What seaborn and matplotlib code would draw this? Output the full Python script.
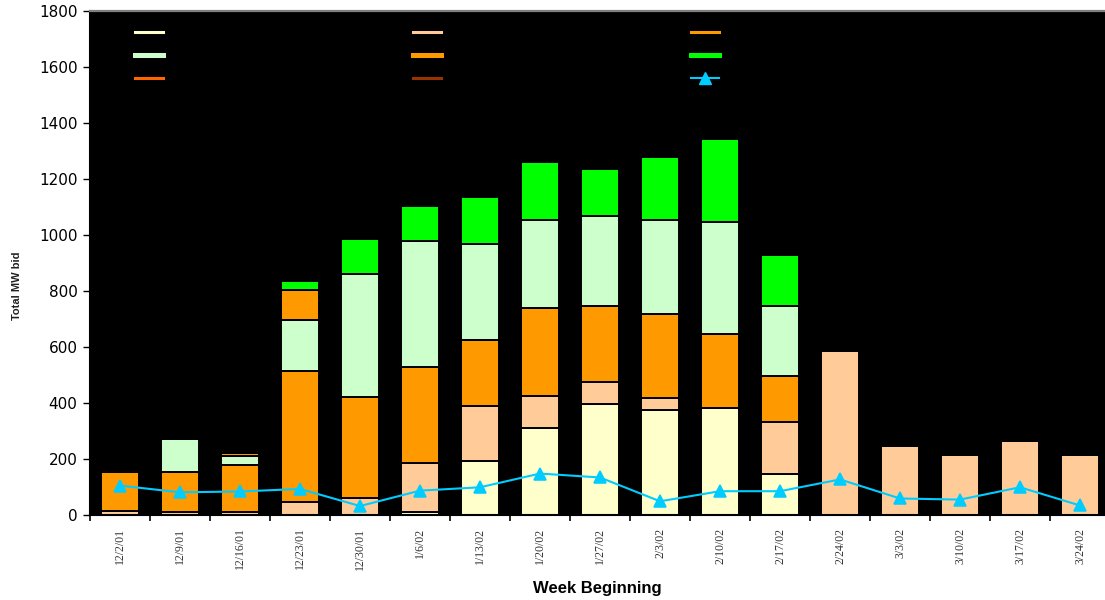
import matplotlib
matplotlib.use("Agg")
import matplotlib.pyplot as plt
from matplotlib.lines import Line2D
import numpy as np
import seaborn as sns

# Weekly MW bid, stacked by price tier (bottom to top)
weeks = ['12/2/01', '12/9/01', '12/16/01', '12/23/01', '12/30/01', '1/6/02',
         '1/13/02', '1/20/02', '1/27/02', '2/3/02', '2/10/02', '2/17/02',
         '2/24/02', '3/3/02', '3/10/02', '3/17/02', '3/24/02']
yellow_mw = [0, 0, 0, 0, 0, 9, 192, 311, 397, 376, 383, 147, 0, 0, 0, 0, 0]
peach_mw = [16, 9, 9, 45, 59, 178, 198, 115, 79, 43, 0, 186, 587, 245, 216, 266, 216]
orange_mw = [136, 143, 171, 471, 364, 340, 236, 314, 271, 299, 264, 164, 0, 0, 0, 0, 0]
ltgreen_mw = [0, 121, 29, 179, 436, 450, 342, 314, 321, 336, 400, 250, 0, 0, 0, 0, 0]
upper_orange_mw = [0, 0, 14, 107, 0, 0, 0, 0, 0, 0, 0, 0, 0, 0, 0, 0, 0]
green_mw = [0, 0, 0, 35, 128, 125, 169, 205, 169, 226, 297, 183, 0, 0, 0, 0, 0]
# Weekly line series (triangles)
line_mw = [105, 81, 84, 93, 32, 87, 99, 148, 134, 49, 85, 85, 127, 59, 55, 99, 34]

y_ticks = list(range(0, 1801, 200))

stack = [
    (yellow_mw, '#FFFFCC'),
    (peach_mw, '#FFCC99'),
    (orange_mw, '#FF9900'),
    (ltgreen_mw, '#CCFFCC'),
    (upper_orange_mw, '#FF9900'),
    (green_mw, '#00FF00'),
]

fig = plt.figure(figsize=(11.05, 6.0), dpi=100)
fig.patch.set_facecolor('white')
ax = fig.add_axes([90 / 1105, 85 / 600, 1020 / 1105, 504 / 600])
ax.set_facecolor('black')

bottom = np.zeros(len(weeks))
for vals, col in stack:
    sns.barplot(x=weeks, y=vals, order=weeks, bottom=bottom.copy(), color=col,
                saturation=1, width=0.62, edgecolor='black', linewidth=1.4,
                errorbar=None, ax=ax)
    bottom += np.asarray(vals, dtype=float)

sns.pointplot(x=weeks, y=line_mw, order=weeks, color='#00CCFF', marker='^',
              markersize=8, linewidth=1.5, errorbar=None, ax=ax)

ax.set_xlim(-0.5, len(weeks) - 0.5)
ax.set_ylim(0, 1800)
ax.set_yticks(y_ticks)
ax.set_yticklabels([str(v) for v in y_ticks], fontsize=11,
                   family='DejaVu Sans', color='black')
ax.tick_params(axis='y', direction='out', length=5, width=1, color='black', pad=4)

ax.set_xticks(np.arange(len(weeks)))
ax.set_xticklabels(weeks, rotation=90, fontsize=8.5, family='Liberation Serif',
                   color='#333333', va='top')
ax.set_xticks(np.arange(-0.5, len(weeks), 1), minor=True)
ax.tick_params(axis='x', which='major', length=0, pad=9)
ax.tick_params(axis='x', which='minor', length=4, width=1.2, color='black',
               direction='out')

for side in ('left', 'bottom'):
    ax.spines[side].set_color('black')
    ax.spines[side].set_linewidth(1.5)
ax.spines['top'].set_color('#808080')
ax.spines['top'].set_linewidth(1.6)
ax.spines['right'].set_visible(False)
ax.grid(False)

ax.set_xlabel('Week Beginning', fontsize=12, fontweight='bold',
              family='Liberation Sans', color='black')
ax.xaxis.set_label_coords(0.497, -0.131)
ax.set_ylabel('Total MW bid', fontsize=8, fontweight='bold',
              family='Liberation Sans', color='#222222')
ax.yaxis.set_label_coords(-0.0666, 0.454)

handles = [
    Line2D([], [], color='#FFFFCC', lw=2.2),
    Line2D([], [], color='#CCFFCC', lw=3.6),
    Line2D([], [], color='#FF6600', lw=2.2),
    Line2D([], [], color='#FFCC99', lw=2.2),
    Line2D([], [], color='#FF9900', lw=3.6),
    Line2D([], [], color='#993300', lw=2.2),
    Line2D([], [], color='#FF9900', lw=2.2),
    Line2D([], [], color='#00FF00', lw=3.6),
    Line2D([], [], color='#00CCFF', lw=1.5, marker='^', markersize=8),
]
leg = ax.legend(handles, [''] * len(handles), ncol=3, loc='upper left',
                bbox_to_anchor=((135 - 90) / 1020, (515 - 26) / 504),
                frameon=False, fontsize=10, handlelength=2.02, handletextpad=0,
                columnspacing=18.0, labelspacing=0.65, borderpad=0,
                borderaxespad=0)

fig.savefig('out.png', dpi=100, facecolor='white')
